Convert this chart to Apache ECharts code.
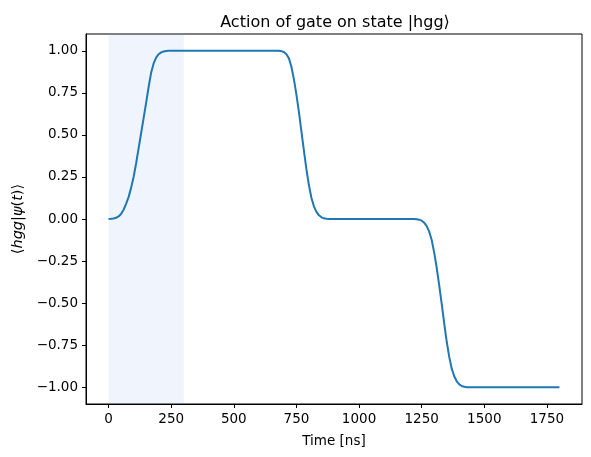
<!DOCTYPE html>
<html>
<head>
<meta charset="utf-8">
<script src="https://cdn.jsdelivr.net/npm/echarts@6/dist/echarts.min.js"></script>
<style>
  html, body { margin: 0; padding: 0; background: #fff; }
  #view { width: 591px; height: 457px; }
</style>
</head>
<body>
<div id="view"></div>
<script>
var myChart = echarts.init(document.getElementById('view'));

// time in ns, overlap <hgg|psi(t)>
var times = [
    0, 10, 20, 30, 40, 50, 60, 70, 80, 90, 100, 110, 120, 130, 140, 150, 160, 170, 180, 190, 200, 210, 220, 230, 240,
    300, 400, 500, 600, 660,
    680, 690, 700, 710, 720, 730, 740, 750, 760, 770, 780, 790, 800, 810, 820, 830, 840, 850, 860, 870, 880,
    900, 1000, 1100, 1200,
    1220, 1230, 1240, 1250, 1260, 1270, 1280, 1290, 1300, 1310, 1320, 1330, 1340, 1350, 1360, 1370, 1380, 1390, 1400, 1410, 1420, 1430,
    1500, 1600, 1700, 1800
];
var overlap = [
    0.000, 0.001, 0.003, 0.007, 0.015, 0.030, 0.055, 0.090, 0.130, 0.185, 0.250, 0.330, 0.420, 0.510, 0.600, 0.690, 0.785, 0.870, 0.925, 0.960, 0.980, 0.991, 0.996, 0.999, 1.000,
    1.000, 1.000, 1.000, 1.000, 1.000,
    1.000, 0.998, 0.993, 0.980, 0.955, 0.905, 0.830, 0.740, 0.635, 0.520, 0.405, 0.295, 0.200, 0.125, 0.075, 0.042, 0.022, 0.010, 0.004, 0.001, 0.000,
    0.000, 0.000, 0.000, 0.000,
    0.000, -0.001, -0.004, -0.010, -0.022, -0.042, -0.075, -0.125, -0.200, -0.290, -0.395, -0.505, -0.620, -0.730, -0.820, -0.890, -0.935, -0.965, -0.983, -0.993, -0.998, -1.000,
    -1.000, -1.000, -1.000, -1.000
];
var shaded = [0, 300];
var xTicks = [0, 250, 500, 750, 1000, 1250, 1500, 1750];
var yTicks = [-1.00, -0.75, -0.50, -0.25, 0.00, 0.25, 0.50, 0.75, 1.00];

var points = [];
for (var i = 0; i < times.length; i++) {
    points.push([times[i], overlap[i]]);
}

var font = 'DejaVu Sans';

var option = {
    animation: false,
    backgroundColor: '#ffffff',
    title: {
        text: 'Action of gate on state |hgg\u27e9',
        left: 330,
        top: 10,
        textAlign: 'center',
        textStyle: {
            fontFamily: font,
            fontSize: 16,
            fontWeight: 'normal',
            color: '#000'
        }
    },
    grid: {
        left: 86,
        right: 9,
        top: 34,
        bottom: 53,
        show: true,
        borderColor: '#000',
        borderWidth: 1,
        backgroundColor: 'transparent'
    },
    xAxis: {
        type: 'value',
        min: -90,
        max: 1890,
        name: 'Time [ns]',
        nameLocation: 'middle',
        nameGap: 30,
        nameTextStyle: { fontFamily: font, fontSize: 13.5, color: '#000' },
        splitLine: { show: false },
        axisLine: { show: true, onZero: false, lineStyle: { color: '#000', width: 1 } },
        axisTick: {
            show: true,
            inside: false,
            length: 4,
            customValues: xTicks,
            lineStyle: { color: '#000' }
        },
        axisLabel: {
            customValues: xTicks,
            margin: 8,
            fontFamily: font,
            fontSize: 13.5,
            color: '#000',
            formatter: function (v) { return String(v); }
        }
    },
    yAxis: {
        type: 'value',
        min: -1.1,
        max: 1.1,
        name: '\u27e8{i|hgg}|{i|\u03c8}({i|t})\u27e9',
        nameLocation: 'middle',
        nameGap: 60,
        nameRotate: 90,
        nameTextStyle: {
            fontFamily: font,
            fontSize: 14.5,
            color: '#000',
            rich: {
                i: { fontFamily: font, fontSize: 14.5, fontStyle: 'italic', color: '#000' }
            }
        },
        splitLine: { show: false },
        axisLine: { show: true, onZero: false, lineStyle: { color: '#000', width: 1 } },
        axisTick: {
            show: true,
            inside: false,
            length: 4,
            customValues: yTicks,
            lineStyle: { color: '#000' }
        },
        axisLabel: {
            customValues: yTicks,
            margin: 8,
            fontFamily: font,
            fontSize: 13.5,
            color: '#000',
            formatter: function (v) {
                var s = Math.abs(v).toFixed(2);
                return v < -1e-9 ? '\u2212' + s : s;
            }
        }
    },
    series: [{
        type: 'line',
        data: points,
        showSymbol: false,
        symbol: 'none',
        lineStyle: { color: '#1f77b4', width: 2 },
        itemStyle: { color: '#1f77b4' },
        markArea: {
            silent: true,
            itemStyle: { color: 'rgba(100,149,237,0.1)' },
            data: [[{ xAxis: shaded[0] }, { xAxis: shaded[1] }]]
        }
    }]
};

myChart.setOption(option);
</script>
</body>
</html>
